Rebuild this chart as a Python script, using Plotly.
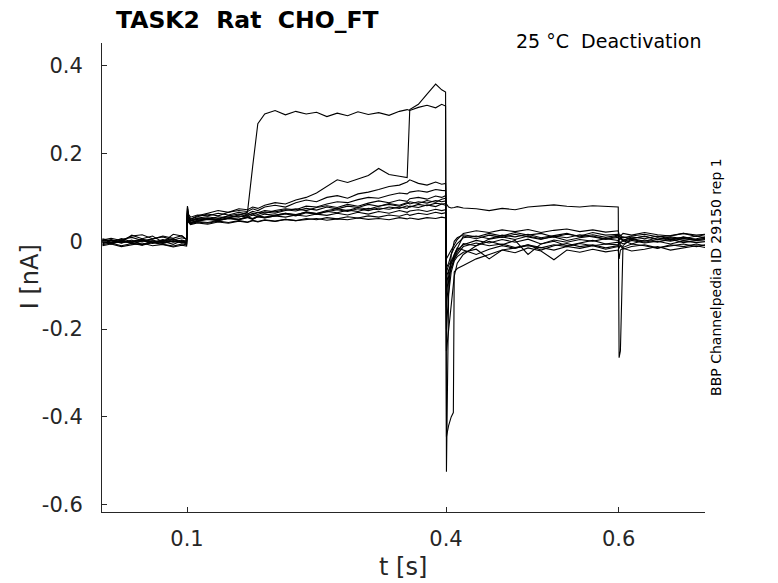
import plotly.graph_objects as go

# sample times [s], one shared grid for every sweep
t_pre = [0.002, 0.012, 0.024, 0.036, 0.048, 0.06, 0.072, 0.084, 0.094, 0.0995]
t_act = [0.1005, 0.1015, 0.104, 0.112, 0.124, 0.136, 0.148, 0.16, 0.17, 0.176,
         0.182, 0.19, 0.202, 0.214, 0.226, 0.238, 0.25, 0.262, 0.274, 0.286,
         0.298, 0.31, 0.322, 0.334, 0.346, 0.355, 0.358, 0.368, 0.378, 0.388,
         0.395, 0.3995]
t_deact = [0.4005, 0.403, 0.406, 0.4085, 0.4095, 0.413, 0.42, 0.435, 0.45, 0.465,
           0.48, 0.495, 0.51, 0.525, 0.54, 0.555, 0.57, 0.585, 0.5995]
t_post = [0.6005, 0.602, 0.605, 0.615, 0.63, 0.645, 0.66, 0.675, 0.69, 0.7]

# currents [nA] (pre | activation | deactivation | post)
sweep01 = [0.002, -0.004, 0.003, -0.006, 0.001, -0.003, 0.004, -0.002, 0.0, -0.005,
           0.07, 0.052, 0.046, 0.052, 0.05, 0.056, 0.053, 0.06, 0.066, 0.17,
           0.268, 0.29, 0.298, 0.288, 0.296, 0.29, 0.294, 0.284, 0.292, 0.286,
           0.295, 0.289, 0.293, 0.287, 0.296, 0.3, 0.298, 0.305, 0.31, 0.304,
           0.312, 0.308,
           -0.525, -0.12, -0.03, -0.01, 0.0, 0.008, 0.015, 0.01, 0.018, 0.012,
           0.02, 0.014, 0.018, 0.01, 0.016, 0.012, 0.02, 0.014, 0.016,
           0.012, 0.008, 0.01, 0.006, 0.012, 0.004, 0.01, 0.006, 0.012, 0.008]
sweep02 = [-0.003, 0.004, -0.002, 0.014, 0.006, 0.012, -0.002, 0.016, 0.012, 0.004,
           0.075, 0.056, 0.05, 0.058, 0.064, 0.07, 0.066, 0.074, 0.072, 0.078,
           0.075, 0.082, 0.088, 0.085, 0.094, 0.1, 0.11, 0.126, 0.14, 0.134,
           0.142, 0.15, 0.166, 0.152, 0.148, 0.145, 0.3, 0.312, 0.335, 0.358,
           0.345, 0.34,
           -0.445, -0.42, -0.4, -0.39, -0.07, -0.062, -0.055, -0.04, -0.03, -0.02,
           -0.015, -0.01, -0.015, -0.008, -0.012, -0.005, -0.01, -0.006, -0.008,
           0.0, -0.004, 0.002, -0.006, 0.003, -0.002, 0.005, -0.003, 0.002, 0.0]
sweep03 = [0.001, -0.006, 0.002, -0.003, 0.005, -0.002, 0.0, -0.007, 0.002, -0.004,
           0.08, 0.06, 0.05, 0.056, 0.062, 0.058, 0.066, 0.07, 0.068, 0.074,
           0.07, 0.078, 0.082, 0.078, 0.088, 0.094, 0.09, 0.1, 0.104, 0.098,
           0.108, 0.112, 0.118, 0.125, 0.128, 0.135, 0.14, 0.132, 0.128, 0.135,
           0.13, 0.132,
           0.085, 0.078, 0.076, 0.078, 0.077, 0.079, 0.076, 0.074, 0.07, 0.075,
           0.072, 0.078, 0.08, 0.083, 0.08, 0.078, 0.081, 0.079, 0.078,
           -0.265, -0.25, -0.01, 0.006, 0.0, 0.008, 0.002, 0.01, 0.004, 0.006]
sweep04 = [-0.006, 0.002, -0.004, 0.003, -0.008, 0.001, -0.003, 0.004, -0.002, 0.002,
           0.065, 0.05, 0.042, 0.048, 0.052, 0.05, 0.058, 0.055, 0.062, 0.06,
           0.066, 0.064, 0.07, 0.074, 0.072, 0.08, 0.078, 0.085, 0.09, 0.088,
           0.095, 0.1, 0.098, 0.105, 0.11, 0.108, 0.112, 0.115, 0.112, 0.118,
           0.116, 0.115,
           -0.25, -0.2, -0.14, -0.1, -0.08, -0.05, -0.03, -0.01, 0.005, 0.01,
           0.004, 0.012, 0.006, 0.01, 0.002, 0.008, 0.012, 0.005, 0.009,
           0.005, 0.009, 0.003, 0.007, 0.011, 0.004, 0.008, 0.002, 0.006, 0.01]
sweep05 = [0.004, -0.002, 0.006, -0.001, 0.003, -0.005, 0.002, 0.006, -0.003, 0.001,
           0.06, 0.045, 0.04, 0.044, 0.041, 0.046, 0.043, 0.047, 0.044, 0.048,
           0.045, 0.049, 0.046, 0.05, 0.047, 0.049, 0.052, 0.048, 0.051, 0.049,
           0.053, 0.05, 0.052, 0.049, 0.054, 0.051, 0.053, 0.05, 0.054, 0.052,
           0.055, 0.053,
           -0.15, -0.09, -0.06, -0.045, -0.04, -0.03, -0.012, -0.004, -0.01, -0.006,
           -0.014, -0.008, -0.02, -0.01, -0.005, -0.012, -0.008, -0.015, -0.01,
           -0.012, -0.008, -0.014, -0.006, -0.01, -0.016, -0.008, -0.012, -0.006, -0.01]
sweep06 = [-0.008, -0.004, -0.01, -0.005, -0.009, -0.003, -0.007, -0.011, -0.006, -0.008,
           0.07, 0.05, 0.042, 0.046, 0.05, 0.047, 0.052, 0.05, 0.055, 0.051,
           0.056, 0.054, 0.058, 0.055, 0.06, 0.057, 0.062, 0.059, 0.064, 0.06,
           0.066, 0.062, 0.068, 0.064, 0.07, 0.066, 0.069, 0.072, 0.068, 0.073,
           0.07, 0.072,
           -0.08, -0.065, -0.05, -0.04, -0.035, -0.02, -0.008, 0.002, -0.004, 0.004,
           -0.002, 0.005, -0.006, 0.003, -0.002, 0.004, 0.0, 0.006, 0.002,
           0.002, 0.006, 0.0, 0.005, -0.002, 0.004, 0.0, 0.006, 0.002, 0.004]
sweep07 = [0.003, 0.007, 0.002, 0.012, 0.015, 0.006, 0.01, 0.003, 0.008, 0.005,
           0.08, 0.062, 0.055, 0.06, 0.058, 0.064, 0.06, 0.066, 0.062, 0.068,
           0.065, 0.07, 0.067, 0.072, 0.069, 0.075, 0.071, 0.078, 0.074, 0.08,
           0.077, 0.084, 0.08, 0.086, 0.082, 0.088, 0.085, 0.09, 0.087, 0.093,
           0.09, 0.092,
           -0.06, -0.05, -0.03, -0.02, -0.015, -0.005, 0.008, 0.012, 0.006, 0.014,
           0.01, 0.016, 0.008, 0.013, 0.018, 0.01, 0.015, 0.009, 0.014,
           0.01, 0.014, 0.008, 0.012, 0.016, 0.01, 0.013, 0.018, 0.011, 0.015]
sweep08 = [-0.002, -0.006, 0.0, -0.004, -0.008, -0.001, -0.005, 0.001, -0.004, -0.002,
           0.068, 0.052, 0.046, 0.05, 0.053, 0.049, 0.054, 0.058, 0.055, 0.06,
           0.057, 0.062, 0.059, 0.064, 0.061, 0.066, 0.063, 0.068, 0.072, 0.068,
           0.074, 0.07, 0.076, 0.073, 0.078, 0.075, 0.08, 0.077, 0.083, 0.079,
           0.085, 0.082,
           -0.1, -0.07, -0.05, -0.04, -0.03, -0.015, -0.02, -0.03, -0.018, -0.01,
           -0.016, -0.008, -0.014, -0.02, -0.012, -0.016, -0.01, -0.018, -0.012,
           -0.015, -0.01, -0.018, -0.012, -0.008, -0.015, -0.01, -0.006, -0.012, -0.008]
sweep09 = [0.006, 0.001, 0.004, 0.009, 0.002, 0.005, 0.012, 0.007, 0.013, 0.004,
           0.058, 0.044, 0.038, 0.042, 0.039, 0.044, 0.041, 0.046, 0.043, 0.047,
           0.044, 0.048, 0.045, 0.05, 0.047, 0.052, 0.049, 0.054, 0.051, 0.056,
           0.053, 0.058, 0.055, 0.06, 0.057, 0.062, 0.059, 0.064, 0.061, 0.066,
           0.063, 0.065,
           -0.04, -0.03, -0.02, -0.012, -0.008, 0.004, 0.018, 0.024, 0.02, 0.026,
           0.022, 0.027, 0.02, 0.025, 0.028, 0.022, 0.026, 0.021, 0.024,
           0.016, 0.012, 0.018, 0.014, 0.02, 0.015, 0.012, 0.018, 0.014, 0.016]
sweep10 = [-0.01, -0.006, -0.012, -0.008, -0.004, -0.01, -0.007, -0.013, -0.009, -0.011,
           0.065, 0.048, 0.043, 0.047, 0.051, 0.048, 0.053, 0.05, 0.056, 0.052,
           0.058, 0.055, 0.06, 0.064, 0.06, 0.067, 0.063, 0.07, 0.074, 0.07,
           0.077, 0.073, 0.08, 0.084, 0.08, 0.086, 0.09, 0.086, 0.093, 0.089,
           0.096, 0.098,
           -0.2, -0.12, -0.07, -0.05, -0.045, -0.035, -0.025, -0.018, -0.04, -0.02,
           -0.026, -0.015, -0.022, -0.042, -0.02, -0.025, -0.018, -0.024, -0.02,
           -0.04, -0.02, -0.016, -0.022, -0.018, -0.012, -0.02, -0.015, -0.01, -0.014]
sweep11 = [0.0, 0.003, -0.003, 0.001, 0.004, -0.002, 0.002, -0.001, 0.003, 0.0,
           0.075, 0.055, 0.048, 0.053, 0.056, 0.052, 0.058, 0.062, 0.058, 0.064,
           0.061, 0.067, 0.064, 0.07, 0.074, 0.07, 0.077, 0.081, 0.077, 0.084,
           0.08, 0.087, 0.092, 0.088, 0.094, 0.091, 0.097, 0.1, 0.096, 0.103,
           0.1, 0.104,
           -0.12, -0.08, -0.06, -0.05, -0.04, -0.025, -0.005, -0.01, 0.0, -0.008,
           0.002, -0.03, -0.006, 0.0, -0.01, -0.004, 0.002, -0.006, -0.002,
           -0.008, -0.002, -0.006, 0.002, -0.004, 0.0, -0.006, 0.001, -0.003, -0.001]
sweep12 = [0.002, -0.003, 0.001, -0.002, 0.0, 0.003, -0.004, 0.001, -0.002, -0.006,
           0.062, 0.046, 0.04, 0.045, 0.043, 0.048, 0.052, 0.049, 0.054, 0.05,
           0.056, 0.053, 0.058, 0.062, 0.058, 0.065, 0.061, 0.068, 0.065, 0.071,
           0.068, 0.075, 0.072, 0.078, 0.075, 0.081, 0.078, 0.084, 0.081, 0.087,
           0.085, 0.086,
           -0.07, -0.055, -0.045, -0.035, -0.03, -0.015, 0.012, 0.006, 0.014, 0.009,
           0.016, 0.01, 0.004, 0.012, 0.008, 0.015, 0.01, 0.005, 0.012,
           0.004, 0.008, 0.002, 0.01, 0.006, 0.012, 0.005, 0.009, 0.003, 0.007]

x_ticks = [0.1, 0.4, 0.6]
x_ticktext = ["0.1", "0.4", "0.6"]
y_ticks = [0.4, 0.2, 0, -0.2, -0.4, -0.6]
y_ticktext = ["0.4", "0.2", "0", "-0.2", "-0.4", "-0.6"]


def main():
    t = t_pre + t_act + t_deact + t_post
    sweeps = [sweep01, sweep02, sweep03, sweep04, sweep05, sweep06,
              sweep07, sweep08, sweep09, sweep10, sweep11, sweep12]

    fig = go.Figure()
    for s in sweeps:
        fig.add_trace(
            go.Scatter(
                x=t,
                y=s,
                mode='lines',
                line=dict(color='black', width=1.1),
                showlegend=False,
                hoverinfo='skip',
            )
        )

    axis_col = '#262626'
    font = 'DejaVu Sans'
    fig.update_layout(
        width=778,
        height=583,
        margin=dict(l=102, r=73, t=43, b=71),
        plot_bgcolor='white',
        paper_bgcolor='white',
        font=dict(family=font, color=axis_col, size=20),
        xaxis=dict(
            range=[0.0015, 0.7],
            tickvals=x_ticks,
            ticktext=x_ticktext,
            ticks='inside',
            ticklen=5,
            tickcolor=axis_col,
            showline=True,
            linecolor=axis_col,
            linewidth=1,
            showgrid=False,
            zeroline=False,
            ticklabelstandoff=8,
            tickfont=dict(size=21),
        ),
        yaxis=dict(
            range=[-0.6166, 0.4517],
            tickvals=y_ticks,
            ticktext=y_ticktext,
            ticks='inside',
            ticklen=5,
            tickcolor=axis_col,
            showline=True,
            linecolor=axis_col,
            linewidth=1,
            showgrid=False,
            zeroline=False,
            ticklabelstandoff=14,
            tickfont=dict(size=21),
        ),
    )

    # title, protocol note, axis labels and the id text on the right
    fig.add_annotation(text='<b>TASK2\u00a0\u00a0Rat\u00a0\u00a0CHO_FT</b>',
                       xref='paper', yref='paper', x=0.0216, y=1.05,
                       xanchor='left', yanchor='middle', showarrow=False,
                       borderpad=0,
                       font=dict(size=23.5, color='black'))
    fig.add_annotation(text='25 \u00b0C\u00a0\u00a0Deactivation',
                       xref='paper', yref='paper', x=0.9967, y=1.0043,
                       xanchor='right', yanchor='middle', showarrow=False,
                       font=dict(size=19, color='black'))
    fig.add_annotation(text='t [s]', xref='paper', yref='paper',
                       x=0.499, y=-0.117, xanchor='center', yanchor='middle',
                       showarrow=False, font=dict(size=24))
    fig.add_annotation(text='I [nA]', xref='paper', yref='paper',
                       x=-0.119, y=0.501, xanchor='center', yanchor='middle',
                       textangle=-90, showarrow=False, font=dict(size=24))
    fig.add_annotation(text='BBP Channelpedia ID 29150 rep 1',
                       xref='paper', yref='paper', x=1.018, y=0.501,
                       xanchor='center', yanchor='middle', textangle=-90,
                       showarrow=False, font=dict(size=14, color='black'))

    # drop the page's default 8px body margin so the figure fills the window
    fig.write_html("out.html",
                   config={'displayModeBar': False},
                   post_script="document.body.style.margin = '0';")


if __name__ == '__main__':
    main()
